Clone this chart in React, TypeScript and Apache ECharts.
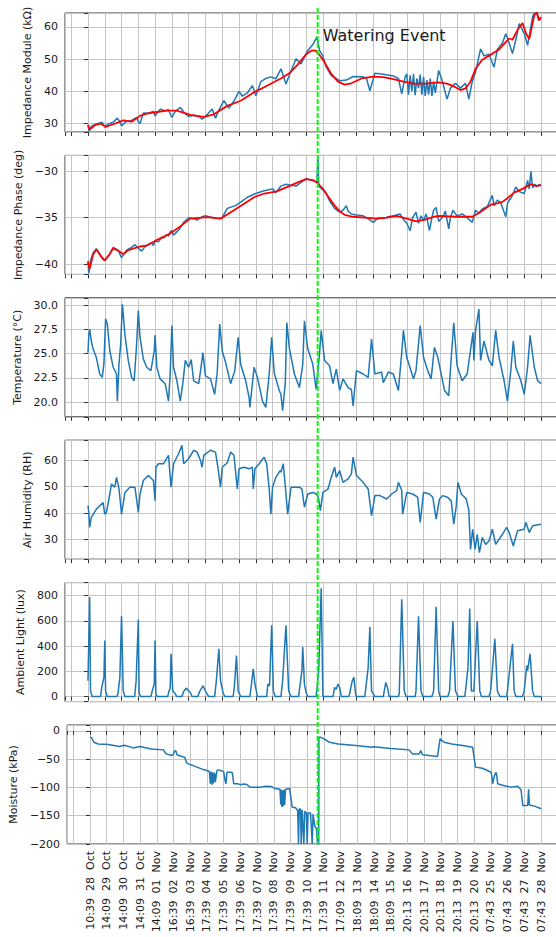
import React, { useEffect, useRef } from 'react';
import * as echarts from 'echarts';

const TICK_LABELS = [
  '10:39  28  Oct', '14:09  29  Oct', '14:09  30  Oct', '14:09  31  Oct', '14:09  01  Nov',
  '16:39  02  Nov', '16:39  03  Nov', '17:39  04  Nov', '17:39  05  Nov', '17:39  06  Nov',
  '17:39  07  Nov', '17:39  08  Nov', '17:39  09  Nov', '17:39  10  Nov', '17:39  11  Nov',
  '17:09  12  Nov', '18:09  13  Nov', '18:09  14  Nov', '18:09  15  Nov', '20:13  16  Nov',
  '20:13  17  Nov', '20:13  18  Nov', '20:13  19  Nov', '20:13  20  Nov', '07:43  25  Nov',
  '07:43  26  Nov', '07:43  27  Nov', '07:43  28  Nov',
];

const WATERING_T = 13.69;
const WATERING_LABEL = 'Watering Event';

const Y_NAMES = [
  'Impedance Module (kΩ)', 'Impedance Phase (deg)', 'Temperature (°C)',
  'Air Humidity (RH)', 'Ambient Light (lux)', 'Moisture (kPa)',
];

const MODULE_RAW: [number, number][] = [
  [0, 29.6], [0.06, 27.6], [0.2, 29.2], [0.45, 29.8], [0.7, 30.2], [0.85, 30.4], [1.0, 28.9], [1.2, 29.9],
  [1.5, 30.4], [1.75, 31.7], [1.9, 30.6], [2.0, 29.3], [2.25, 30.6], [2.6, 31.0], [2.9, 31.9], [3.0, 30.6],
  [3.1, 30.0], [3.3, 33.3], [3.6, 33.2], [3.9, 33.8], [4.0, 32.4], [4.3, 34.5], [4.6, 34.0], [4.8, 34.3],
  [5.0, 31.9], [5.2, 33.8], [5.5, 35.0], [5.8, 33.0], [6.0, 32.2], [6.3, 32.6], [6.6, 32.3], [6.8, 31.4],
  [7.0, 32.2], [7.4, 34.5], [7.6, 31.7], [7.8, 34.2], [8.1, 37.1], [8.4, 34.8], [8.7, 37.0], [9.0, 40.0],
  [9.2, 38.5], [9.5, 39.5], [9.8, 41.8], [10.0, 38.6], [10.3, 43.0], [10.6, 44.0], [10.9, 44.5], [11.2, 43.9],
  [11.5, 47.0], [11.8, 42.3], [12.0, 45.0], [12.4, 50.1], [12.7, 48.5], [13.1, 52.7], [13.4, 54.5], [13.65, 56.9],
  [13.8, 52.7], [14.0, 51.0], [14.2, 47.5], [14.5, 44.9], [15.0, 43.3], [15.4, 43.5], [15.8, 44.6], [16.4, 44.5],
  [16.6, 44.0], [16.8, 40.2], [17.1, 45.6], [17.6, 45.3], [18.2, 44.8], [18.5, 44.0], [18.7, 39.2], [18.9, 44.5],
  [19.0, 45.4], [19.1, 39.0], [19.2, 45.0], [19.3, 40.0], [19.4, 45.4], [19.5, 38.8], [19.6, 44.0], [19.7, 41.0],
  [19.8, 45.2], [19.9, 39.0], [20.0, 44.5], [20.1, 38.6], [20.2, 43.5], [20.3, 39.0], [20.4, 44.0], [20.5, 38.6],
  [20.6, 43.0], [20.7, 39.5], [20.9, 46.5], [21.1, 43.5], [21.4, 37.6], [21.6, 41.0], [21.9, 42.5], [22.2, 41.0],
  [22.5, 42.5], [22.7, 37.6], [22.9, 43.0], [23.1, 46.0], [23.4, 53.2], [23.6, 51.0], [23.9, 51.5], [24.2, 47.5],
  [24.4, 53.0], [24.7, 55.0], [24.9, 57.9], [25.1, 55.0], [25.3, 51.7], [25.5, 56.0], [25.7, 61.0], [26.0, 58.0],
  [26.2, 54.3], [26.5, 63.1], [26.7, 65.5], [26.85, 62.0], [27.0, 63.0],
];

const MODULE_FIT: [number, number][] = [
  [0, 29.6], [0.1, 28.2], [0.45, 29.6], [0.75, 30.0], [1.05, 29.0], [1.5, 29.8], [2.1, 31.0], [2.6, 30.6],
  [3.1, 32.4], [3.5, 33.1], [4.1, 33.6], [4.7, 34.0], [5.3, 34.0], [6.1, 32.7], [6.9, 32.1], [7.5, 32.9],
  [8.3, 35.5], [9.1, 37.1], [9.9, 39.7], [10.7, 41.8], [11.2, 43.2], [11.5, 44.0], [12.0, 45.6], [12.5, 48.3],
  [13.0, 51.5], [13.3, 52.6], [13.55, 52.7], [13.8, 51.3], [14.1, 49.0], [14.5, 45.4], [14.9, 43.0], [15.3, 42.1],
  [15.7, 42.5], [16.3, 44.0], [17.0, 44.6], [17.6, 44.4], [18.2, 43.8], [18.8, 43.0], [19.5, 42.3], [20.2, 42.5],
  [20.9, 42.8], [21.4, 42.4], [21.9, 41.3], [22.2, 40.4], [22.5, 40.9], [22.8, 43.0], [23.1, 47.0], [23.5, 49.8],
  [24.1, 51.7], [24.5, 53.0], [25.1, 56.4], [25.3, 56.0], [25.6, 59.0], [25.9, 61.2], [26.1, 58.0], [26.3, 56.2],
  [26.6, 63.6], [26.75, 64.5], [26.9, 62.0], [27.0, 63.0],
];

const PHASE_RAW: [number, number][] = [
  [0, -39.7], [0.05, -41.0], [0.15, -39.6], [0.3, -38.8], [0.5, -38.35], [0.7, -38.9], [0.9, -39.5], [1.0, -39.6],
  [1.3, -38.9], [1.5, -38.2], [1.8, -38.5], [2.0, -39.3], [2.3, -38.5], [2.6, -38.2], [2.8, -37.9], [3.0, -38.3],
  [3.2, -38.6], [3.4, -38.1], [3.6, -37.9], [3.8, -37.7], [3.9, -38.0], [4.0, -37.5], [4.2, -37.6], [4.4, -37.1],
  [4.5, -37.2], [4.7, -36.8], [4.8, -37.0], [4.9, -36.5], [5.0, -36.4], [5.1, -36.9], [5.3, -36.5], [5.5, -36.1],
  [5.7, -35.5], [6.0, -35.0], [6.3, -35.1], [6.5, -35.25], [6.8, -34.9], [7.0, -34.8], [7.2, -34.9], [7.5, -35.0],
  [7.8, -35.1], [8.0, -35.0], [8.3, -34.0], [8.8, -33.7], [9.2, -33.2], [9.5, -32.8], [10.0, -32.4], [10.5, -32.1],
  [11.0, -31.9], [11.2, -32.3], [11.5, -31.6], [11.8, -31.4], [12.1, -31.5], [12.4, -31.6], [12.7, -31.2], [13.0, -30.8],
  [13.4, -31.0], [13.65, -31.2], [13.7, -28.3], [13.75, -31.4], [13.8, -31.7], [14.0, -32.0], [14.2, -32.4], [14.4, -33.2],
  [14.7, -34.0], [15.0, -34.4], [15.2, -34.2], [15.4, -33.7], [15.5, -34.3], [15.7, -34.6], [16.0, -34.7], [16.4, -34.8],
  [16.7, -35.1], [17.0, -35.5], [17.3, -35.0], [17.6, -35.1], [17.9, -34.9], [18.2, -34.8], [18.6, -34.6], [18.8, -35.2],
  [19.0, -35.6], [19.2, -36.4], [19.35, -35.0], [19.55, -34.4], [19.7, -35.6], [19.85, -34.8], [20.0, -35.3], [20.15, -34.6],
  [20.35, -36.4], [20.5, -35.0], [20.6, -34.2], [20.75, -33.9], [20.9, -35.4], [21.15, -34.9], [21.3, -34.3], [21.5, -36.2],
  [21.6, -35.0], [21.75, -34.2], [22.0, -34.8], [22.3, -34.6], [22.6, -35.0], [22.9, -35.5], [23.1, -34.2], [23.3, -34.5],
  [23.5, -34.05], [23.8, -33.8], [24.1, -32.6], [24.2, -33.7], [24.4, -33.1], [24.6, -33.4], [24.9, -34.9], [25.0, -33.5],
  [25.1, -33.15], [25.3, -32.6], [25.5, -31.7], [25.7, -32.2], [26.0, -32.4], [26.2, -31.0], [26.3, -31.9], [26.4, -30.0],
  [26.5, -31.8], [26.6, -31.4], [26.8, -31.6], [26.9, -31.4], [27.0, -31.6],
];

const PHASE_FIT: [number, number][] = [
  [0, -39.7], [0.1, -40.5], [0.3, -39.0], [0.5, -38.4], [0.75, -39.1], [1.0, -39.6], [1.3, -38.9], [1.5, -38.3],
  [1.75, -38.5], [2.1, -38.9], [2.4, -38.5], [3.1, -38.1], [3.5, -38.0], [4.0, -37.5], [4.9, -36.7], [5.6, -35.8],
  [6.1, -35.1], [7.1, -34.95], [7.9, -35.1], [8.7, -34.2], [9.3, -33.5], [9.9, -32.8], [10.5, -32.4], [11.2, -32.2],
  [12.0, -31.6], [12.5, -31.2], [13.0, -30.85], [13.4, -30.95], [13.7, -31.3], [14.0, -31.9], [14.3, -32.7], [14.7, -33.7],
  [15.0, -34.3], [15.3, -34.7], [15.8, -34.9], [16.5, -35.0], [17.2, -35.1], [17.8, -35.0], [18.4, -34.8], [19.0, -35.1],
  [19.55, -35.4], [20.1, -35.2], [20.6, -34.9], [21.0, -34.8], [21.5, -34.85], [22.0, -34.9], [22.9, -34.9], [23.3, -34.5],
  [23.7, -34.0], [24.0, -33.6], [24.3, -33.5], [24.7, -33.3], [25.0, -32.9], [25.4, -32.3], [25.9, -31.9], [26.4, -31.4],
  [26.7, -31.6], [27.0, -31.5],
];

const TEMPERATURE: [number, number][] = [
  [0, 25.1], [0.05, 26.9], [0.1, 27.55], [0.2, 26.3], [0.3, 25.5], [0.5, 24.6], [0.7, 22.9], [0.85, 22.55],
  [0.95, 24.0], [1.0, 26.3], [1.05, 28.6], [1.15, 28.1], [1.3, 25.3], [1.5, 23.6], [1.7, 22.9], [1.75, 20.1],
  [1.85, 24.0], [1.95, 26.0], [2.05, 30.1], [2.2, 27.0], [2.4, 24.3], [2.6, 22.55], [2.75, 22.2], [2.9, 26.0],
  [3.0, 29.45], [3.1, 26.7], [3.3, 24.45], [3.5, 23.6], [3.75, 23.25], [3.95, 25.3], [4.0, 26.9], [4.1, 23.6],
  [4.3, 22.4], [4.6, 21.9], [4.8, 20.1], [4.9, 22.9], [5.0, 27.9], [5.1, 23.6], [5.3, 22.2], [5.5, 20.1],
  [5.65, 21.9], [5.8, 24.3], [6.0, 23.6], [6.15, 24.4], [6.3, 22.2], [6.6, 21.9], [6.75, 23.75], [6.85, 25.1],
  [7.0, 22.7], [7.3, 22.4], [7.55, 20.8], [7.7, 23.0], [7.85, 28.05], [8.0, 25.3], [8.2, 24.1], [8.5, 21.9],
  [8.75, 23.25], [8.95, 26.7], [9.1, 23.9], [9.4, 22.2], [9.6, 20.5], [9.65, 19.45], [9.9, 23.6], [10.1, 22.55],
  [10.4, 20.1], [10.6, 19.45], [10.8, 22.9], [10.95, 26.7], [11.1, 23.0], [11.4, 21.2], [11.5, 20.8], [11.6, 19.1],
  [11.76, 22.0], [11.85, 28.2], [12.0, 25.6], [12.3, 22.9], [12.6, 21.5], [12.8, 23.9], [12.9, 28.4], [13.1, 25.5],
  [13.4, 23.9], [13.6, 21.3], [13.8, 25.0], [13.9, 27.4], [14.1, 24.3], [14.4, 23.75], [14.6, 21.9], [14.8, 23.4],
  [15.0, 21.2], [15.2, 22.4], [15.5, 21.5], [15.7, 21.3], [15.8, 19.6], [16.0, 23.25], [16.4, 22.9], [16.7, 22.55],
  [16.9, 26.5], [17.1, 22.9], [17.5, 23.1], [17.6, 22.0], [17.9, 23.1], [18.2, 22.9], [18.5, 21.2], [18.7, 25.1],
  [18.8, 27.4], [19.0, 24.6], [19.4, 22.4], [19.55, 23.25], [19.8, 27.9], [20.0, 24.6], [20.25, 23.25], [20.45, 22.4],
  [20.65, 25.65], [20.85, 24.6], [21.25, 21.2], [21.5, 20.65], [21.65, 24.6], [21.8, 28.2], [22.0, 23.75], [22.3, 22.2],
  [22.6, 22.9], [22.85, 26.0], [22.95, 27.2], [23.0, 24.3], [23.1, 27.4], [23.3, 29.6], [23.4, 24.3], [23.6, 26.3],
  [23.9, 24.3], [24.1, 23.75], [24.3, 27.4], [24.5, 24.6], [24.8, 22.2], [25.0, 20.1], [25.2, 23.25], [25.35, 26.3],
  [25.5, 23.6], [25.8, 22.2], [26.0, 20.8], [26.2, 23.6], [26.35, 26.9], [26.6, 23.6], [26.8, 22.2], [27.0, 21.9],
];

const HUMIDITY: [number, number][] = [
  [0, 42.8], [0.05, 40.25], [0.1, 34.6], [0.2, 38.4], [0.5, 41.5], [0.9, 44.0], [1.0, 39.6], [1.1, 40.25],
  [1.3, 47.2], [1.4, 51.0], [1.6, 49.75], [1.7, 53.5], [1.85, 49.1], [2.0, 39.6], [2.2, 47.8], [2.5, 49.75],
  [2.8, 49.75], [3.0, 40.25], [3.1, 47.2], [3.3, 52.3], [3.6, 54.2], [3.9, 52.3], [4.0, 44.7], [4.05, 57.3],
  [4.2, 58.6], [4.5, 58.6], [4.8, 61.8], [4.95, 49.75], [5.1, 58.6], [5.4, 62.4], [5.6, 65.6], [5.7, 58.6],
  [6.0, 60.5], [6.3, 63.7], [6.5, 63.0], [6.7, 60.0], [6.8, 57.3], [6.9, 61.8], [7.3, 63.7], [7.6, 63.0],
  [7.75, 57.0], [7.9, 49.75], [8.0, 57.3], [8.3, 59.0], [8.5, 63.0], [8.7, 61.8], [8.9, 49.1], [9.0, 56.7],
  [9.3, 57.3], [9.6, 56.7], [9.8, 57.3], [9.85, 49.1], [9.95, 56.7], [10.2, 58.6], [10.5, 61.1], [10.65, 58.6],
  [10.8, 49.1], [10.9, 39.6], [11.0, 49.75], [11.2, 53.5], [11.45, 56.0], [11.5, 55.4], [11.64, 58.6], [11.8, 47.2],
  [11.9, 39.6], [12.1, 49.75], [12.6, 49.75], [12.75, 49.1], [12.9, 42.2], [13.1, 47.2], [13.4, 47.8], [13.6, 47.2],
  [13.73, 46.0], [13.85, 40.9], [14.0, 47.8], [14.3, 49.0], [14.5, 53.5], [14.7, 57.3], [14.8, 53.5], [15.0, 56.0],
  [15.2, 51.6], [15.5, 52.9], [15.7, 54.8], [15.8, 61.1], [16.0, 54.2], [16.4, 51.6], [16.7, 49.1], [16.9, 39.0],
  [17.1, 46.6], [17.4, 46.6], [17.8, 45.3], [18.1, 47.2], [18.4, 48.5], [18.5, 51.6], [18.7, 48.5], [18.75, 39.6],
  [19.0, 47.8], [19.35, 47.2], [19.65, 46.0], [19.8, 36.5], [20.0, 47.8], [20.35, 47.2], [20.55, 46.0], [20.75, 37.7],
  [20.95, 45.3], [21.15, 46.6], [21.45, 45.9], [21.65, 44.6], [21.8, 35.8], [21.95, 42.8], [22.05, 51.6], [22.25, 47.2],
  [22.55, 45.3], [22.7, 40.9], [22.8, 26.3], [22.93, 33.9], [23.07, 26.3], [23.2, 32.0], [23.33, 25.1], [23.5, 30.8],
  [23.7, 28.2], [23.9, 29.5], [24.1, 33.9], [24.3, 28.2], [24.7, 32.0], [24.95, 34.6], [25.1, 32.7], [25.35, 27.6],
  [25.6, 33.3], [26.0, 33.9], [26.1, 36.5], [26.3, 32.7], [26.5, 35.2], [27.0, 35.8],
];

const LIGHT: [number, number][] = [
  [0, 125], [0.1, 790], [0.15, 45], [0.25, 0], [0.75, 0], [0.82, 72], [0.95, 152], [1.0, 445], [1.05, 45], [1.15, 0],
  [1.72, 0], [1.78, 18], [1.9, 152], [2.0, 640], [2.1, 45], [2.2, 0], [2.78, 0], [2.87, 125], [3.0, 610], [3.05, 25],
  [3.15, 0], [3.75, 0], [3.82, 40], [3.95, 99], [4.0, 445], [4.05, 20], [4.12, 0], [4.75, 0], [4.82, 40], [4.9, 67],
  [4.95, 339], [5.05, 45], [5.15, 32], [5.3, 0], [5.6, 0], [5.7, 40], [5.85, 67], [6.0, 45], [6.1, 32], [6.2, 0],
  [6.55, 0], [6.65, 40], [6.85, 85], [7.05, 32], [7.2, 0], [7.55, 0], [7.65, 125], [7.8, 379], [7.9, 125], [8.05, 32],
  [8.15, 0], [8.65, 0], [8.72, 72], [8.85, 325], [8.95, 45], [9.1, 0], [9.65, 0], [9.72, 72], [9.85, 219], [9.95, 99],
  [10.1, 0], [10.65, 0], [10.72, 99], [10.82, 85], [10.95, 565], [11.05, 45], [11.15, 0], [11.5, 0], [11.6, 125], [11.8, 565],
  [11.96, 45], [12.1, 0], [12.55, 0], [12.62, 72], [12.75, 205], [12.8, 392], [12.9, 99], [13.0, 32], [13.1, 0], [13.6, 0],
  [13.75, 205], [13.9, 859], [14.0, 0], [14.6, 0], [14.7, 72], [14.8, 58], [14.9, 99], [15.0, 72], [15.1, 0], [15.55, 0],
  [15.62, 40], [15.75, 125], [15.85, 152], [15.95, 20], [16.0, 0], [16.5, 0], [16.7, 232], [16.8, 552], [16.9, 45], [17.1, 0],
  [17.6, 0], [17.75, 112], [17.85, 72], [17.95, 0], [18.5, 0], [18.55, 20], [18.7, 771], [18.85, 45], [18.95, 0], [19.5, 0],
  [19.55, 45], [19.7, 637], [19.85, 45], [19.95, 0], [20.5, 0], [20.6, 45], [20.75, 712], [20.9, 45], [20.98, 0], [21.45, 0],
  [21.55, 45], [21.75, 600], [21.9, 45], [22.05, 0], [22.45, 0], [22.5, 45], [22.65, 232], [22.75, 699], [22.85, 45], [23.0, 45],
  [23.2, 600], [23.35, 45], [23.45, 0], [23.9, 0], [24.0, 45], [24.25, 459], [24.4, 45], [24.55, 0], [24.95, 0], [25.0, 45],
  [25.3, 419], [25.4, 45], [25.5, 0], [25.9, 0], [26.0, 45], [26.15, 245], [26.2, 205], [26.35, 339], [26.5, 45], [26.6, 0],
  [27.0, 0],
];

const MOISTURE: [number, number][] = [
  [0, -11], [0.1, -12], [0.23, -20], [0.5, -23], [1.1, -24], [1.75, -27.6], [2.07, -25.3], [2.6, -30],
  [3.0, -27.6], [3.66, -31.8], [4.4, -33.5], [4.55, -40.6], [4.9, -43.5], [5.0, -41], [5.07, -34.7], [5.15, -36],
  [5.2, -42], [5.6, -46], [5.67, -46.5], [5.8, -57], [5.9, -58.2], [6.4, -64], [6.83, -68.8], [7.1, -71],
  [7.15, -73], [7.2, -93.5], [7.25, -72], [7.3, -95], [7.35, -73], [7.4, -93], [7.46, -74], [7.5, -90],
  [7.6, -70], [7.7, -68.8], [7.9, -71], [8.0, -72], [8.1, -90], [8.14, -93.5], [8.2, -73], [8.3, -73],
  [8.5, -73], [8.55, -80], [8.6, -93.5], [8.84, -93.5], [9.0, -95], [9.2, -94], [9.37, -94.7], [9.58, -99.4],
  [10.2, -99.4], [10.5, -98], [10.85, -98.2], [11.06, -102], [11.37, -103], [11.42, -130], [11.45, -104], [11.48, -134.7],
  [11.52, -105], [11.56, -133], [11.6, -104], [11.65, -131], [11.7, -103], [11.95, -102], [12.1, -134.7], [12.3, -136],
  [12.43, -140.6], [12.48, -200], [12.52, -138], [12.6, -138], [12.64, -200], [12.7, -140], [12.8, -200], [12.85, -142],
  [12.95, -145], [13.0, -200], [13.05, -145], [13.2, -145], [13.3, -200], [13.35, -147], [13.45, -168], [13.55, -173],
  [13.62, -200], [13.69, -200], [13.7, -11], [13.8, -11], [14.0, -14], [14.33, -20], [14.86, -23], [15.9, -25.9],
  [16.87, -28.8], [16.98, -28], [18.0, -31.2], [19.1, -33.5], [19.3, -40.6], [19.7, -40.6], [19.8, -34.7], [19.9, -42],
  [20.8, -45.3], [20.95, -14], [21.2, -20], [21.65, -23], [22.3, -25.9], [22.9, -28.8], [23.07, -64], [23.5, -66],
  [24.0, -73], [24.05, -80], [24.1, -93.5], [24.2, -80], [24.3, -73], [24.35, -80], [24.4, -93.5], [24.75, -96.5],
  [25.2, -99.4], [25.6, -98], [25.8, -104], [25.9, -131.8], [26.2, -131.8], [26.25, -103], [26.3, -131], [26.6, -133],
  [27.0, -137.6],
];

const FONT = 'DejaVu Sans';
const BLUE = '#1f77b4';
const RED = '#ff0000';
const GREEN = '#00ff00';
const GRID_COLOR = '#c4c4c4';
const SPINE = '#333333';
const TEXT = '#1a1a1a';

const X_MIN = -1.37;
const X_MAX = 28.49;

// axis ranges per subplot: [min, max, step, decimals]
const Y_AXES: [number, number, number, number][] = [
  [27.4, 64.3, 10, 0],
  [-41.1, -28.3, 5, 0],
  [18.48, 30.77, 2.5, 1],
  [22.6, 67.5, 10, 0],
  [-40, 904, 200, 0],
  [-200, 10.5, 50, 0],
];
const NAME_GAPS = [29.5, 37, 38, 28, 35, 43.5];

const CHART_W = 580;
const PLOT_LEFT = 65;
const PLOT_RIGHT_EDGE = 566;
const PLOT_TOP = 13;
const PLOT_PITCH = 142.4;
const PLOT_H = 119;

function buildOption() {
  const grids = Y_AXES.map((_, i) => ({
    left: PLOT_LEFT,
    right: CHART_W - PLOT_RIGHT_EDGE,
    top: PLOT_TOP + i * PLOT_PITCH,
    height: PLOT_H,
    show: true,
    borderColor: SPINE,
    borderWidth: 1,
    backgroundColor: 'transparent',
  }));
  const xAxes = Y_AXES.map((_, i) => ({
    type: 'value',
    gridIndex: i,
    min: X_MIN,
    max: X_MAX,
    minInterval: 1,
    maxInterval: 1,
    axisLine: { show: false },
    axisTick: { show: true, length: 4, lineStyle: { color: SPINE, width: 1 } },
    axisLabel: {
      show: i === Y_AXES.length - 1,
      rotate: 90,
      margin: 7,
      fontFamily: FONT,
      fontSize: 11,
      color: TEXT,
      formatter: (v: number) => {
        const k = Math.round(v);
        if (Math.abs(v - k) > 1e-6 || k < 0 || k >= TICK_LABELS.length) return '';
        return TICK_LABELS[k];
      },
    },
    splitLine: { show: true, lineStyle: { color: GRID_COLOR, width: 1 } },
  }));
  const yAxes = Y_AXES.map(([min, max, step, dec], i) => ({
    type: 'value',
    gridIndex: i,
    min,
    max,
    minInterval: step,
    maxInterval: step,
    name: Y_NAMES[i],
    nameLocation: 'middle',
    nameRotate: 90,
    nameGap: NAME_GAPS[i],
    nameTextStyle: { fontFamily: FONT, fontSize: 11, color: TEXT },
    axisLine: { show: false },
    axisTick: { show: true, length: 4, lineStyle: { color: SPINE, width: 1 } },
    axisLabel: {
      margin: 7,
      fontFamily: FONT,
      fontSize: 11,
      color: TEXT,
      formatter: (v: number) => {
        const k = v / step;
        if (Math.abs(k - Math.round(k)) > 1e-6) return '';
        return v.toFixed(dec).replace('-', '\u2212');
      },
    },
    splitLine: { show: true, lineStyle: { color: GRID_COLOR, width: 1 } },
  }));
  const line = (data: [number, number][], idx: number, color: string, width: number, z = 2) => ({
    type: 'line',
    xAxisIndex: idx,
    yAxisIndex: idx,
    data,
    showSymbol: false,
    symbol: 'none',
    silent: true,
    clip: true,
    z,
    lineStyle: { color, width },
  });
  return {
    animation: false,
    backgroundColor: '#ffffff',
    grid: grids,
    xAxis: xAxes,
    yAxis: yAxes,
    series: [
      line(MODULE_RAW, 0, BLUE, 1.5),
      line(MODULE_FIT, 0, RED, 1.8, 3),
      line(PHASE_RAW, 1, BLUE, 1.5),
      line(PHASE_FIT, 1, RED, 1.8, 3),
      line(TEMPERATURE, 2, BLUE, 1.5),
      line(HUMIDITY, 3, BLUE, 1.5),
      line(LIGHT, 4, BLUE, 1.5),
      line(MOISTURE, 5, BLUE, 1.5),
    ],
  };
}

export default function App() {
  const ref = useRef<HTMLDivElement>(null);
  useEffect(() => {
    if (!ref.current) return;
    const chart = echarts.init(ref.current, undefined, { renderer: 'svg' });
    chart.setOption(buildOption() as any);
    const gx = chart.convertToPixel({ xAxisIndex: 0 } as any, WATERING_T) as unknown as number;
    const yBottom = chart.convertToPixel({ yAxisIndex: 5 } as any, Y_AXES[5][0]) as unknown as number;
    chart.setOption({
      graphic: [
        {
          type: 'line',
          z: 100,
          silent: true,
          shape: { x1: gx, y1: PLOT_TOP - 5, x2: gx, y2: yBottom },
          style: { stroke: GREEN, lineWidth: 2, lineDash: [5, 2] },
        },
        {
          type: 'text',
          z: 100,
          silent: true,
          x: gx + 5,
          y: 35,
          style: {
            text: WATERING_LABEL,
            fontFamily: FONT,
            fontSize: 16,
            fill: TEXT,
            textVerticalAlign: 'middle',
            verticalAlign: 'middle',
          },
        },
      ],
    } as any);
    return () => chart.dispose();
  }, []);
  return (
    <div
      ref={ref}
      style={{ position: 'fixed', left: 0, top: 0, width: CHART_W, height: 937, background: '#fff' }}
    />
  );
}
